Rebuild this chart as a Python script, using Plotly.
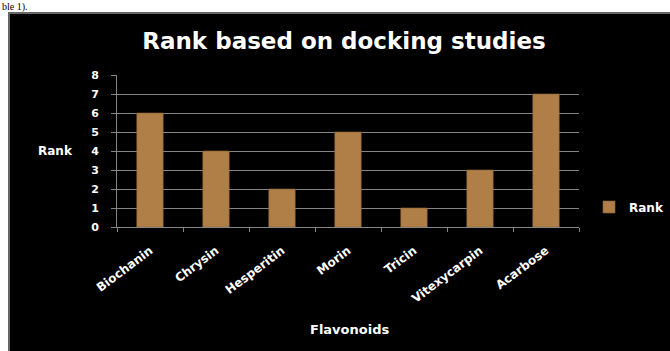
import plotly.graph_objects as go

categories = ["Biochanin", "Chrysin", "Hesperitin", "Morin", "Tricin", "Vitexycarpin", "Acarbose"]
rank_values = [6, 4, 2, 5, 1, 3, 7]
series_name = "Rank"
y_ticks = [0, 1, 2, 3, 4, 5, 6, 7, 8]

W, H = 670, 351
ML, MR, MT, MB = 117, 91, 75, 124
PW, PH = W - ML - MR, H - MT - MB

def px_x(x):
    return (x - ML) / PW

def px_y(y):
    return (H - MB - y) / PH

GRID = "#858585"
FONT = "DejaVu Sans"

fig = go.Figure()
fig.add_trace(go.Bar(
    x=categories, y=rank_values, name=series_name,
    marker=dict(color="#B07F48", line=dict(color="#8C6536", width=0.6)),
    showlegend=True,
))

fig.update_layout(
    width=W, height=H,
    margin=dict(l=ML, r=MR, t=MT, b=MB, pad=0, autoexpand=False),
    paper_bgcolor="white",
    plot_bgcolor="black",
    bargap=0.6,
    title=dict(text="Rank based on docking studies", x=344 / W, xanchor="center", xref="container",
               y=1 - 41 / H, yanchor="middle", yref="container", automargin=False,
               font=dict(family=FONT, size=23, color="white", weight="bold")),
    xaxis=dict(
        type="category", showline=True, linecolor=GRID, linewidth=1,
        ticks="outside", tickson="boundaries", ticklen=4, tickcolor=GRID,
        showgrid=False, tickangle=-37, ticklabelstandoff=11, automargin=False,
        tickfont=dict(family=FONT, size=12, color="white", weight="bold"),
    ),
    yaxis=dict(
        range=[0, 8], tickvals=y_ticks, showline=True, linecolor=GRID, linewidth=1,
        ticks="outside", ticklen=5, tickcolor=GRID, gridcolor=GRID, gridwidth=1,
        zeroline=False, ticklabelstandoff=10, automargin=False,
        tickfont=dict(family=FONT, size=11, color="white", weight="bold"),
    ),
    legend=dict(x=px_x(589), y=px_y(207), xanchor="left", yanchor="middle", itemwidth=30,
                bgcolor="rgba(0,0,0,0)", font=dict(family=FONT, size=12, color="white", weight="bold")),
    shapes=[
        dict(type="rect", xref="paper", yref="paper", layer="below",
             x0=px_x(9), x1=px_x(W + 5), y0=px_y(H + 5), y1=px_y(13),
             fillcolor="black", line=dict(color="#666666", width=2)),
    ],
    annotations=[
        dict(text="Rank", xref="paper", yref="paper", x=px_x(55), y=px_y(151),
             xanchor="center", yanchor="middle", showarrow=False,
             font=dict(family=FONT, size=12, color="white", weight="bold")),
        dict(text="Flavonoids", xref="paper", yref="paper", x=px_x(349), y=px_y(329),
             xanchor="center", yanchor="middle", showarrow=False,
             font=dict(family=FONT, size=13, color="white", weight="bold")),
        dict(text="ble 1).", xref="paper", yref="paper", x=px_x(1), y=px_y(0),
             xanchor="left", yanchor="top", showarrow=False, borderpad=0,
             font=dict(family="Liberation Serif", size=10, color="black")),
    ],
)

fig.write_html("out.html")
